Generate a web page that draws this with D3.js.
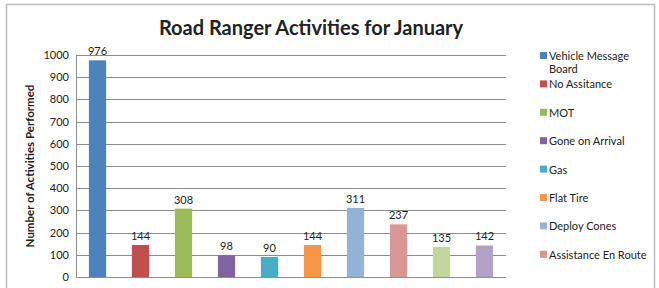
<!DOCTYPE html>
<html>
<head>
<meta charset="utf-8">
<script src="https://cdn.jsdelivr.net/npm/d3@7"></script>
<style>
  body { margin: 0; background: #fff; }
  text { font-family: Lato, "Open Sans", sans-serif; fill: #222; }
</style>
</head>
<body>
<div id="chart"></div>
<script>
const categories = ["Vehicle Message Board", "No Assitance", "MOT", "Gone on Arrival", "Gas",
    "Flat Tire", "Deploy Cones", "Assistance En Route", "Other 1", "Other 2"];
const values = [976, 144, 308, 98, 90, 144, 311, 237, 135, 142];
const colors = ["#4F81BD", "#C0504D", "#9BBB59", "#8064A2", "#4BACC6",
    "#F79646", "#95B3D7", "#D99694", "#C3D69B", "#B3A2C7"];
const yTicks = [0, 100, 200, 300, 400, 500, 600, 700, 800, 900, 1000];
// legend only shows the first eight entries (the rest are cut off)
const legendLines = [["Vehicle Message", "Board"], ["No Assitance"], ["MOT"], ["Gone on Arrival"],
    ["Gas"], ["Flat Tire"], ["Deploy Cones"], ["Assistance En Route"]];

const W = 659, H = 288;
const margin = {top: 55, left: 76, right: 153, bottom: 11};
const width = W - margin.left - margin.right;
const height = H - margin.top - margin.bottom;

const svg = d3.select("#chart").append("svg")
    .attr("width", W).attr("height", H);

// chart frame
svg.append("rect")
    .attr("x", 6.5).attr("y", 4.5)
    .attr("width", 648).attr("height", 300)
    .attr("fill", "none").attr("stroke", "#bbb").attr("stroke-width", 1.5);

svg.append("text")
    .attr("x", 311).attr("y", 35)
    .attr("text-anchor", "middle")
    .style("font-size", "20px").style("font-weight", "bold")
    .text("Road Ranger Activities for January");

const g = svg.append("g").attr("transform", `translate(${margin.left},${margin.top})`);

const x = d3.scaleBand().domain(categories).range([0, width]).paddingInner(0.6).paddingOuter(0.3);
const y = d3.scaleLinear().domain([0, 1000]).range([height, 0]);

// gridlines
g.selectAll(".grid").data(yTicks).enter().append("line")
    .attr("x1", 0).attr("x2", width)
    .attr("y1", d => Math.round(y(d)) + 0.5).attr("y2", d => Math.round(y(d)) + 0.5)
    .attr("stroke", "#8c8c8c").attr("stroke-width", 1);

const yAxis = g.append("g")
    .call(d3.axisLeft(y).tickValues(yTicks).tickFormat(d3.format("d")).tickSize(0).tickPadding(7));
yAxis.select(".domain").attr("stroke", "#8c8c8c");
yAxis.selectAll("text").style("font-size", "11px").style("font-family", "Lato, sans-serif").attr("fill", "#222");

g.selectAll(".bar").data(values).enter().append("rect")
    .attr("x", (d, i) => x(categories[i]))
    .attr("y", d => y(d))
    .attr("width", x.bandwidth())
    .attr("height", d => height - y(d))
    .attr("fill", (d, i) => colors[i]);

g.selectAll(".val").data(values).enter().append("text")
    .attr("x", (d, i) => x(categories[i]) + x.bandwidth() / 2)
    .attr("y", d => y(d) - 5)
    .attr("text-anchor", "middle")
    .style("font-size", "11px")
    .text(d => d);

svg.append("text")
    .attr("transform", `translate(34,${margin.top + height / 2}) rotate(-90)`)
    .attr("text-anchor", "middle")
    .style("font-size", "11.5px").style("font-weight", "bold")
    .text("Number of Activities Performed");

const legend = svg.append("g").attr("transform", "translate(540,56)");
const item = legend.selectAll(".item").data(legendLines).enter().append("g")
    .attr("transform", (d, i) => `translate(0,${i * 28.4})`);
item.append("rect")
    .attr("x", 0).attr("y", -4).attr("width", 7).attr("height", 7)
    .attr("fill", (d, i) => colors[i]);
item.selectAll("text").data(d => d).enter().append("text")
    .attr("x", 9).attr("y", (d, j) => 4 + j * 13)
    .style("font-size", "11px")
    .text(d => d);
</script>
</body>
</html>
